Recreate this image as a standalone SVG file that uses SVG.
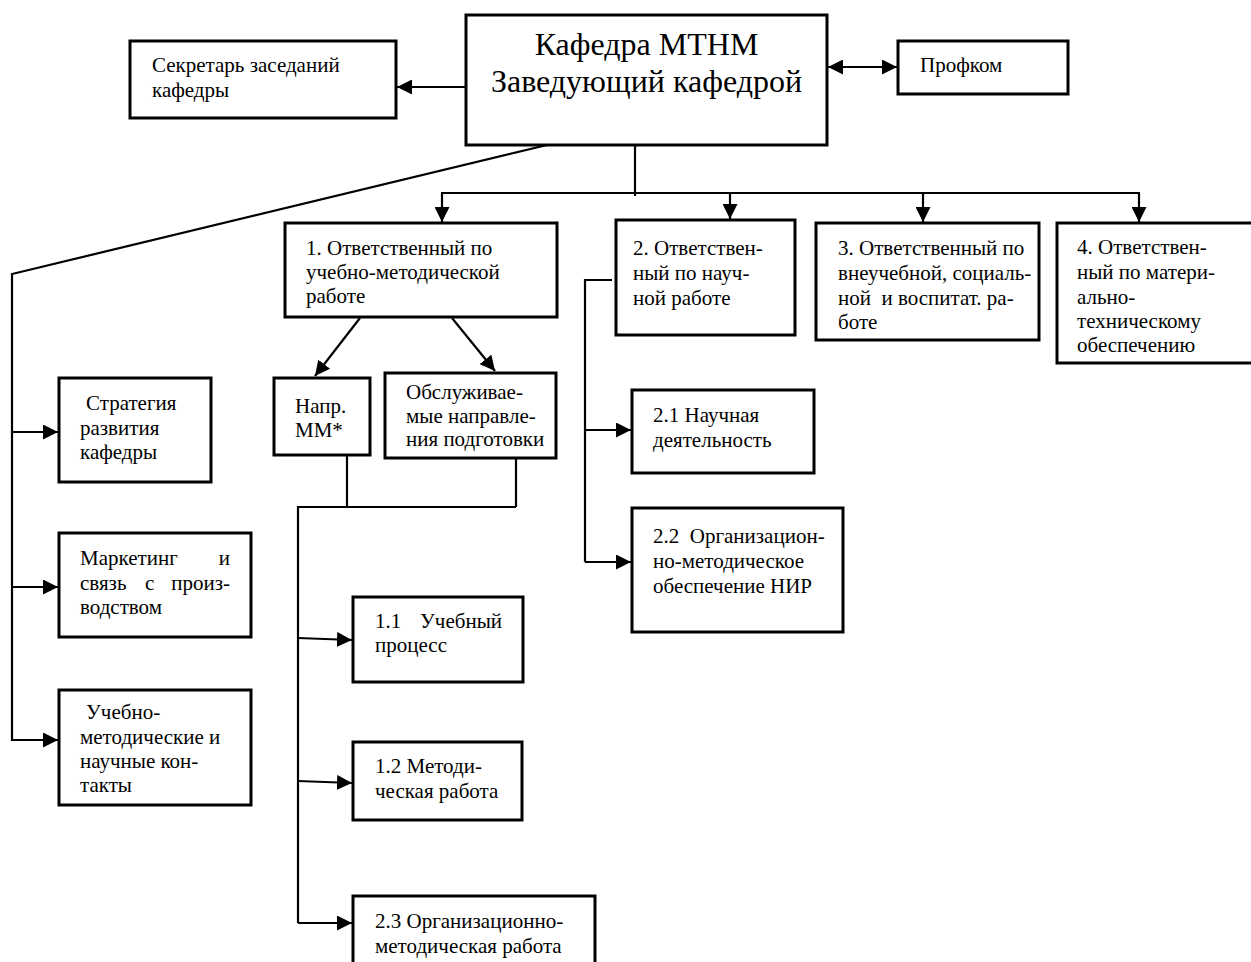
<svg xmlns="http://www.w3.org/2000/svg" width="1251" height="962" viewBox="0 0 1251 962">
<style>
.box{fill:#fff;stroke:#000;stroke-width:3}
.t{font-family:"Liberation Serif","Times New Roman",serif;font-size:21px;fill:#000}
.big{font-family:"Liberation Serif","Times New Roman",serif;font-size:32px;fill:#000;text-anchor:middle}
.ln{fill:none;stroke:#000;stroke-width:2.2}
</style>
<defs>
<marker id="ah" viewBox="0 0 15 15" refX="15" refY="7.5" markerWidth="15" markerHeight="15" markerUnits="userSpaceOnUse" orient="auto-start-reverse">
<path d="M0,0 L15,7.5 L0,15 z" fill="#000"/>
</marker>
</defs>
<rect width="1251" height="962" fill="#fff"/>

<g id="connectors">
<line class="ln" x1="466" y1="87" x2="397" y2="87" marker-end="url(#ah)"/>
<line class="ln" x1="828" y1="67" x2="897" y2="67" marker-start="url(#ah)" marker-end="url(#ah)"/>
<line class="ln" x1="635" y1="145" x2="635" y2="196"/>
<line class="ln" x1="441" y1="193" x2="1140" y2="193"/>
<line class="ln" x1="442" y1="193" x2="442" y2="222" marker-end="url(#ah)"/>
<line class="ln" x1="730" y1="193" x2="730" y2="219" marker-end="url(#ah)"/>
<line class="ln" x1="923" y1="193" x2="923" y2="222" marker-end="url(#ah)"/>
<line class="ln" x1="1139" y1="193" x2="1139" y2="222" marker-end="url(#ah)"/>
<polyline class="ln" points="547,145 12,274 12,741"/>
<line class="ln" x1="12" y1="432" x2="58" y2="432" marker-end="url(#ah)"/>
<line class="ln" x1="12" y1="587" x2="58" y2="587" marker-end="url(#ah)"/>
<line class="ln" x1="12" y1="740" x2="58" y2="740" marker-end="url(#ah)"/>
<line class="ln" x1="360" y1="318" x2="315" y2="376" marker-end="url(#ah)"/>
<line class="ln" x1="452" y1="318" x2="495" y2="371" marker-end="url(#ah)"/>
<polyline class="ln" points="612,280 585,280 585,562"/>
<line class="ln" x1="585" y1="430" x2="631" y2="430" marker-end="url(#ah)"/>
<line class="ln" x1="585" y1="562" x2="631" y2="562" marker-end="url(#ah)"/>
<line class="ln" x1="347" y1="456" x2="347" y2="507"/>
<line class="ln" x1="516" y1="459" x2="516" y2="507"/>
<polyline class="ln" points="516,507 298,507 298,923"/>
<line class="ln" x1="298" y1="638" x2="352" y2="640" marker-end="url(#ah)"/>
<line class="ln" x1="298" y1="781" x2="352" y2="783" marker-end="url(#ah)"/>
<line class="ln" x1="298" y1="923" x2="352" y2="923" marker-end="url(#ah)"/>
</g>

<g id="main">
<rect class="box" x="466" y="15" width="361" height="130"/>
<text class="big" x="646.5" y="55">Кафедра МТНМ</text>
<text class="big" x="646.5" y="92">Заведующий кафедрой</text>
</g>

<g id="secretary">
<rect class="box" x="130" y="41" width="266" height="77"/>
<text class="t" x="152" y="72">Секретарь заседаний</text>
<text class="t" x="152" y="97">кафедры</text>
</g>

<g id="profkom">
<rect class="box" x="898" y="41" width="170" height="53"/>
<text class="t" x="920" y="72">Профком</text>
</g>

<g id="resp1">
<rect class="box" x="285" y="223" width="272" height="94"/>
<text class="t" x="306" y="255">1. Ответственный по</text>
<text class="t" x="306" y="279">учебно-методической</text>
<text class="t" x="306" y="303">работе</text>
</g>

<g id="resp2">
<rect class="box" x="616" y="220" width="179" height="115"/>
<text class="t" x="633" y="255">2. Ответствен-</text>
<text class="t" x="633" y="280">ный по науч-</text>
<text class="t" x="633" y="305">ной работе</text>
</g>

<g id="resp3">
<rect class="box" x="816" y="223" width="223" height="117"/>
<text class="t" x="838" y="255">3. Ответственный по</text>
<text class="t" x="838" y="280">внеучебной, социаль-</text>
<text class="t" x="838" y="305" xml:space="preserve">ной  и воспитат. ра-</text>
<text class="t" x="838" y="329">боте</text>
</g>

<g id="resp4">
<rect class="box" x="1057" y="223" width="200" height="140"/>
<text class="t" x="1077" y="254">4. Ответствен-</text>
<text class="t" x="1077" y="279">ный по матери-</text>
<text class="t" x="1077" y="304">ально-</text>
<text class="t" x="1077" y="328">техническому</text>
<text class="t" x="1077" y="352">обеспечению</text>
</g>

<g id="strategy">
<rect class="box" x="59" y="378" width="152" height="104"/>
<text class="t" x="86" y="410">Стратегия</text>
<text class="t" x="80" y="435">развития</text>
<text class="t" x="80" y="459">кафедры</text>
</g>

<g id="marketing">
<rect class="box" x="59" y="533" width="192" height="104"/>
<text class="t" x="80" y="565">Маркетинг</text>
<text class="t" x="230" y="565" text-anchor="end">и</text>
<text class="t" x="80" y="590">связь</text>
<text class="t" x="145" y="590">с</text>
<text class="t" x="230" y="590" text-anchor="end">произ-</text>
<text class="t" x="80" y="614">водством</text>
</g>

<g id="contacts">
<rect class="box" x="59" y="690" width="192" height="115"/>
<text class="t" x="86" y="719">Учебно-</text>
<text class="t" x="80" y="744">методические и</text>
<text class="t" x="80" y="768">научные кон-</text>
<text class="t" x="80" y="792">такты</text>
</g>

<g id="napr">
<rect class="box" x="274" y="378" width="96" height="77"/>
<text class="t" x="295" y="413">Напр.</text>
<text class="t" x="295" y="437">ММ*</text>
</g>

<g id="obsl">
<rect class="box" x="385" y="373" width="171" height="85"/>
<text class="t" x="406" y="399">Обслуживае-</text>
<text class="t" x="406" y="423">мые направле-</text>
<text class="t" x="406" y="446">ния подготовки</text>
</g>

<g id="n21">
<rect class="box" x="632" y="390" width="182" height="83"/>
<text class="t" x="653" y="422">2.1 Научная</text>
<text class="t" x="653" y="447">деятельность</text>
</g>

<g id="n22">
<rect class="box" x="632" y="508" width="211" height="124"/>
<text class="t" x="653" y="543" xml:space="preserve">2.2  Организацион-</text>
<text class="t" x="653" y="568">но-методическое</text>
<text class="t" x="653" y="593">обеспечение НИР</text>
</g>

<g id="n11">
<rect class="box" x="353" y="597" width="170" height="85"/>
<text class="t" x="375" y="628">1.1</text>
<text class="t" x="502" y="628" text-anchor="end">Учебный</text>
<text class="t" x="375" y="652">процесс</text>
</g>

<g id="n12">
<rect class="box" x="353" y="742" width="169" height="78"/>
<text class="t" x="375" y="773">1.2 Методи-</text>
<text class="t" x="375" y="798">ческая работа</text>
</g>

<g id="n23">
<rect class="box" x="353" y="896" width="242" height="80"/>
<text class="t" x="375" y="928">2.3 Организационно-</text>
<text class="t" x="375" y="953">методическая работа</text>
</g>
</svg>
